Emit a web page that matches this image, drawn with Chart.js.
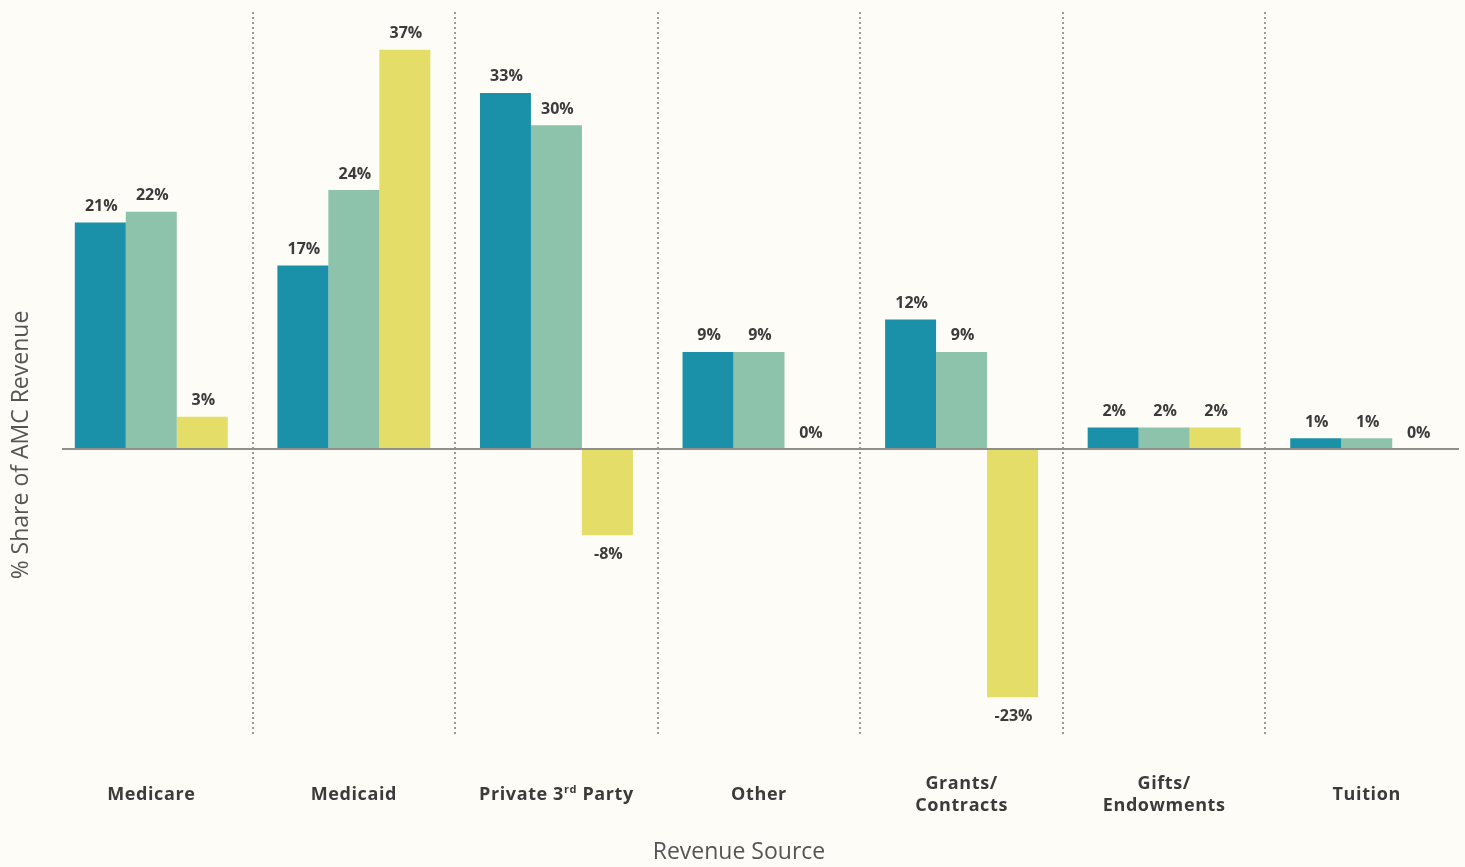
<!DOCTYPE html>
<html>
<head>
<meta charset="utf-8">
<script src="https://cdn.jsdelivr.net/npm/chart.js@4.4.1/dist/chart.umd.min.js"></script>
<style>
  html, body { margin: 0; padding: 0; background: #fdfcf6; overflow: hidden; }
  #wrap { width: 1468px; height: 867px; position: relative; }
</style>
</head>
<body>
<div id="wrap"><canvas id="revenue-chart"></canvas></div>
<script>
/* ── revenue share by source, three series per category ── */

const categories = ['Medicare', 'Medicaid', 'Private 3rd Party', 'Other', 'Grants/Contracts', 'Gifts/Endowments', 'Tuition'];
// tick text per category; {..} marks a superscript run
const tickLines  = [['Medicare'], ['Medicaid'], ['Private 3{rd} Party'], ['Other'], ['Grants/', 'Contracts'], ['Gifts/', 'Endowments'], ['Tuition']];

const seriesA = [21, 17, 33, 9, 12, 2, 1];
const seriesB = [22, 24, 30, 9, 9, 2, 1];
const seriesC = [3, 37, -8, 0, -23, 2, 0];

const xTitle = 'Revenue Source';
const yTitle = '% Share of AMC Revenue';

const COLORS = { a: '#1a91a8', b: '#8cc3aa', c: '#e4de69' };
const TEXT   = '#3b3b3b';
const FONT   = '"Open Sans", "DejaVu Sans", sans-serif';

// value labels above (or below, for negatives) each bar
const barLabels = {
  id: 'barLabels',
  afterDatasetsDraw(chart) {
    const { ctx } = chart;
    ctx.save();
    ctx.font = `bold 16px ${FONT}`;
    ctx.fillStyle = TEXT;
    ctx.textAlign = 'center';
    ctx.textBaseline = 'middle';
    chart.data.datasets.forEach((ds, di) => {
      chart.getDatasetMeta(di).data.forEach((bar, i) => {
        const v = ds.data[i];
        const y = v < 0 ? bar.y + 19 : bar.y - 16;
        ctx.fillText(v + '%', bar.x + 1, y);
      });
    });
    ctx.restore();
  }
};

// baseline at zero, drawn over the bar feet
const zeroLine = {
  id: 'zeroLine',
  afterDatasetsDraw(chart) {
    const { ctx, chartArea, scales } = chart;
    const y0 = Math.round(scales.y.getPixelForValue(0));
    ctx.save();
    ctx.strokeStyle = '#8f8f8c';
    ctx.lineWidth = 2;
    ctx.beginPath();
    ctx.moveTo(chartArea.left + 12, y0);
    ctx.lineTo(chartArea.right - 9, y0);
    ctx.stroke();
    ctx.restore();
  }
};

// category names with letter spacing and superscripts, plus both axis titles
const axisText = {
  id: 'axisText',
  afterDraw(chart) {
    const { ctx, chartArea, scales } = chart;
    ctx.save();
    ctx.fillStyle = TEXT;
    ctx.textBaseline = 'middle';
    ctx.textAlign = 'left';
    ctx.letterSpacing = '0.6px';
    const base = `bold 18px ${FONT}`, sup = `bold 11px ${FONT}`;
    tickLines.forEach((lines, i) => {
      const cx = scales.x.getPixelForValue(i);
      const midY = chartArea.bottom + 60;
      lines.forEach((line, li) => {
        const y = midY + (li - (lines.length - 1) / 2) * 22;
        const parts = line.split(/(\{[^}]*\})/).filter(Boolean).map(p =>
          p.startsWith('{') ? { t: p.slice(1, -1), sup: true } : { t: p, sup: false });
        let w = 0;
        parts.forEach(p => { ctx.font = p.sup ? sup : base; p.w = ctx.measureText(p.t).width; w += p.w; });
        let x = cx - w / 2;
        parts.forEach(p => {
          ctx.font = p.sup ? sup : base;
          ctx.fillText(p.t, x, p.sup ? y - 5 : y);
          x += p.w;
        });
      });
    });
    ctx.letterSpacing = '0px';

    ctx.font = `23px ${FONT}`;
    ctx.fillStyle = '#555555';
    ctx.textAlign = 'center';
    ctx.fillText(xTitle, 739, chartArea.bottom + 117);

    ctx.translate(21, scales.y.getPixelForValue(0) - 4);
    ctx.rotate(-Math.PI / 2);
    ctx.fillText(yTitle, 0, 0);
    ctx.restore();
  }
};

const barDefaults = { barPercentage: 1, categoryPercentage: 0.755, borderWidth: 0 };

new Chart(document.getElementById('revenue-chart'), {
  type: 'bar',
  data: {
    labels: categories,
    datasets: [
      { label: 'A', data: seriesA, backgroundColor: COLORS.a, ...barDefaults },
      { label: 'B', data: seriesB, backgroundColor: COLORS.b, ...barDefaults },
      { label: 'C', data: seriesC, backgroundColor: COLORS.c, ...barDefaults },
    ]
  },
  options: {
    responsive: true,
    maintainAspectRatio: false,
    animation: false,
    layout: { padding: { top: 12, left: 50, right: 0, bottom: 132 } },
    plugins: { legend: { display: false }, tooltip: { enabled: false } },
    scales: {
      x: {
        grid: {
          offset: true,
          drawTicks: false,
          lineWidth: 2,
          color: ctx => (ctx.index === 0 || ctx.index === categories.length) ? 'rgba(0,0,0,0)' : '#9a9a96',
        },
        border: { display: false, dash: [2, 3] },
        ticks: { display: false },
      },
      y: {
        display: false,
        min: -26.5,
        max: 40.5,
      }
    }
  },
  plugins: [barLabels, zeroLine, axisText]
});
</script>
</body>
</html>
